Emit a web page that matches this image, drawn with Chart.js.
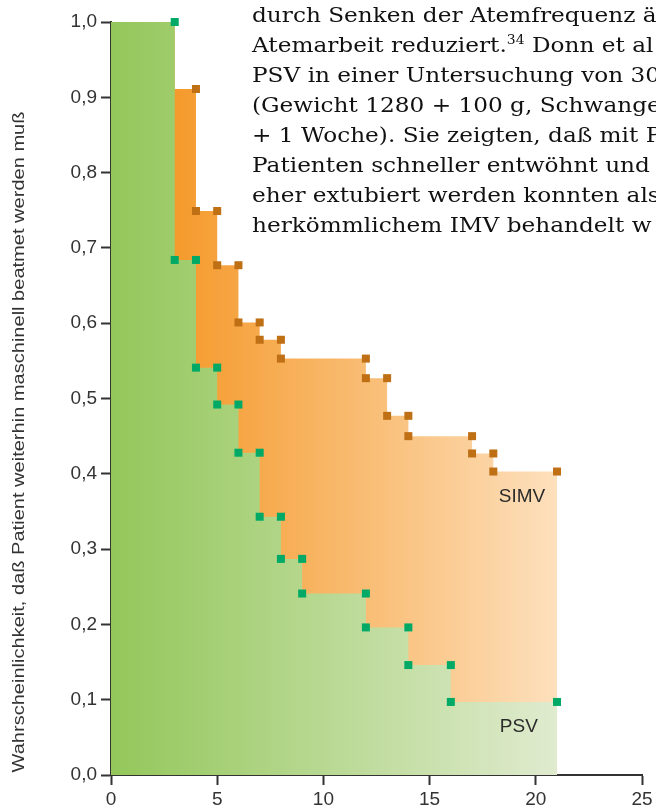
<!DOCTYPE html>
<html>
<head>
<meta charset="utf-8">
<script src="https://cdn.jsdelivr.net/npm/chart.js@4.4.1/dist/chart.umd.min.js"></script>
<style>
  html, body { margin: 0; padding: 0; background: #fff; overflow: hidden; }
  #wrap { position: relative; width: 656px; height: 809px; overflow: hidden; }
  #chart { position: absolute; left: 0; top: 0; width: 656px; height: 809px; }
  #text {
    position: absolute; left: 252px; top: 0;
    font-family: "DejaVu Serif", serif; font-size: 20px; line-height: 30px;
    color: #111; white-space: nowrap;
    transform: scaleX(1.16); transform-origin: 0 0;
  }
  #text sup { font-size: 12px; vertical-align: 8px; line-height: 0; }
</style>
</head>
<body>
<div id="wrap">
  <canvas id="chart" width="656" height="809"></canvas>
  <div id="text">
    durch Senken der Atemfrequenz ä<br>
    Atemarbeit reduziert.<sup>34</sup> Donn et al<br>
    PSV in einer Untersuchung von 30<br>
    (Gewicht 1280 + 100 g, Schwanger<br>
    + 1 Woche). Sie zeigten, daß mit P<br>
    Patienten schneller entwöhnt und<br>
    eher extubiert werden konnten als<br>
    herkömmlichem IMV behandelt w
  </div>
</div>
<script>
// Kaplan-Meier step curves: time (x) at which each step starts and the value from there on
const simvTimes  = [0, 3, 4, 5, 6, 7, 8, 12, 13, 14, 17, 18, 21];
const simvValues = [1.0, 0.911, 0.749, 0.677, 0.601, 0.578, 0.553, 0.527, 0.477, 0.450, 0.427, 0.403, 0.403];
const psvTimes   = [0, 3, 4, 5, 6, 7, 8, 9, 12, 14, 16, 21];
const psvValues  = [1.0, 0.684, 0.541, 0.492, 0.428, 0.343, 0.287, 0.241, 0.196, 0.146, 0.097, 0.097];

const xTicks = [0, 5, 10, 15, 20, 25];
const yTicks = [0, 0.1, 0.2, 0.3, 0.4, 0.5, 0.6, 0.7, 0.8, 0.9, 1.0];
const yTitle = 'Wahrscheinlichkeit, daß Patient weiterhin maschinell beatmet werden muß';
const seriesNames = ['SIMV', 'PSV'];

const toPoints = (t, v) => t.map((x, i) => ({ x: x, y: v[i] }));

// corner markers at both ends of every drop, starting with drop number `from`
function corners(t, v, from) {
  const pts = [];
  for (let i = from; i < t.length; i++) {
    pts.push({ x: t[i], y: v[i - 1] });
    if (v[i] !== v[i - 1]) pts.push({ x: t[i], y: v[i] });
  }
  return pts;
}

function hGradient(chart, from, to, c0, c1) {
  const area = chart.chartArea;
  if (!area) return c0;
  const xs = chart.scales.x;
  const g = chart.ctx.createLinearGradient(xs.getPixelForValue(from), 0, xs.getPixelForValue(to), 0);
  g.addColorStop(0, c0);
  g.addColorStop(1, c1);
  return g;
}

const labelFont = '19px "Liberation Sans", Arial, sans-serif';

const overlay = {
  id: 'overlay',
  afterDraw(chart) {
    const ctx = chart.ctx;
    const xs = chart.scales.x, ys = chart.scales.y;
    ctx.save();
    // series names inside the areas
    ctx.font = labelFont;
    ctx.fillStyle = '#2a2a2a';
    ctx.textAlign = 'center';
    ctx.textBaseline = 'middle';
    ctx.fillText(seriesNames[0], xs.getPixelForValue(19.35), ys.getPixelForValue(0.370));
    ctx.fillText(seriesNames[1], xs.getPixelForValue(19.2), ys.getPixelForValue(0.064));
    ctx.restore();

    // rotated y-axis title, condensed to the axis height
    ctx.save();
    ctx.font = '17px "Liberation Sans", Arial, sans-serif';
    ctx.fillStyle = '#333';
    const w = ctx.measureText(yTitle).width;
    ctx.translate(24, 442);
    ctx.rotate(-Math.PI / 2);
    ctx.scale(661 / w, 1);
    ctx.textAlign = 'center';
    ctx.textBaseline = 'alphabetic';
    ctx.fillText(yTitle, 0, 0);
    ctx.restore();
  }
};

const axisColor = '#333';
const tickFont = { family: '"Liberation Sans", Arial, sans-serif', size: 19 };

new Chart(document.getElementById('chart'), {
  type: 'line',
  data: {
    datasets: [
      {
        label: 'PSV markers', type: 'scatter', data: corners(psvTimes, psvValues, 1),
        pointStyle: 'rect', pointRadius: 5.66, pointBorderWidth: 0, clip: false,
        backgroundColor: '#00aa66', borderColor: '#00aa66', showLine: false
      },
      {
        label: 'SIMV markers', type: 'scatter', data: corners(simvTimes, simvValues, 2),
        pointStyle: 'rect', pointRadius: 5.66, pointBorderWidth: 0, clip: false,
        backgroundColor: '#bf6f14', borderColor: '#bf6f14', showLine: false
      },
      {
        label: 'PSV', data: toPoints(psvTimes, psvValues), stepped: 'before',
        fill: 'origin', borderWidth: 0, pointRadius: 0,
        backgroundColor: ctx => hGradient(ctx.chart, 0, 21, '#93c75a', '#e0ebcf')
      },
      {
        label: 'SIMV', data: toPoints(simvTimes, simvValues), stepped: 'before',
        fill: 'origin', borderWidth: 0, pointRadius: 0,
        backgroundColor: ctx => hGradient(ctx.chart, 3, 21, '#f59a2c', '#fde0bd')
      }
    ]
  },
  options: {
    responsive: false,
    animation: false,
    events: [],
    layout: { padding: { top: 22, right: 14, left: 0, bottom: 0 } },
    plugins: { legend: { display: false }, tooltip: { enabled: false } },
    scales: {
      x: {
        type: 'linear', min: 0, max: 25,
        afterBuildTicks: s => { s.ticks = xTicks.map(v => ({ value: v })); },
        afterFit: s => { s.height = 34; },
        ticks: { font: tickFont, color: axisColor, padding: 3, maxRotation: 0 },
        grid: { display: true, drawOnChartArea: false, drawTicks: true, tickLength: 10,
                tickColor: axisColor, tickWidth: 2 },
        border: { display: true, color: axisColor, width: 2 }
      },
      y: {
        type: 'linear', min: 0, max: 1,
        afterBuildTicks: s => { s.ticks = yTicks.map(v => ({ value: v })); },
        afterFit: s => { s.width = 111; },
        ticks: { font: tickFont, color: axisColor, padding: 4,
                 callback: v => v.toFixed(1).replace('.', ',') },
        grid: { display: true, drawOnChartArea: false, drawTicks: true, tickLength: 10,
                tickColor: axisColor, tickWidth: 2 },
        border: { display: true, color: axisColor, width: 2 }
      }
    }
  },
  plugins: [overlay]
});
</script>
</body>
</html>
